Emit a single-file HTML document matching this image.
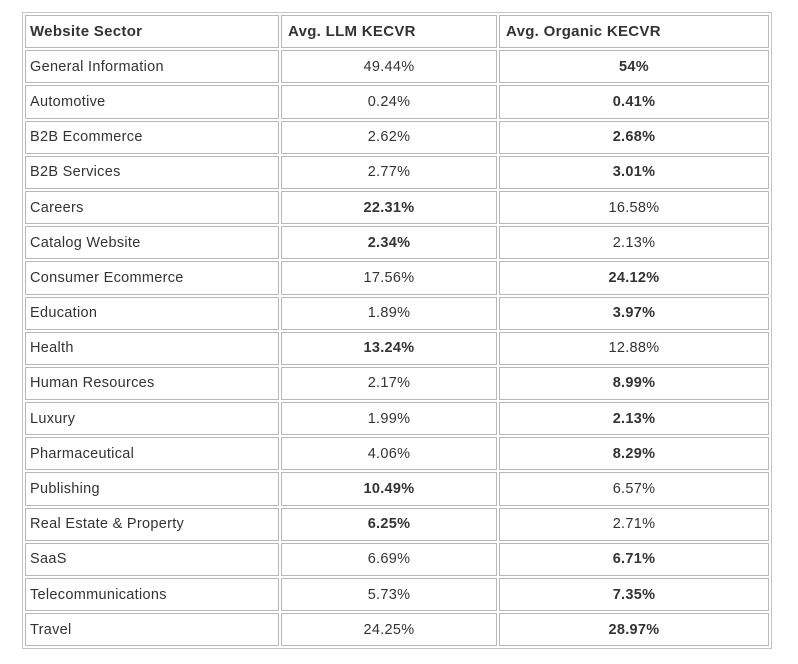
<!DOCTYPE html>
<html><head><meta charset="utf-8"><style>
html,body{margin:0;padding:0;background:#fff;width:798px;height:664px;overflow:hidden}
table{position:absolute;left:22px;top:12px;width:750px;border:1px solid #c4c4c4;border-collapse:separate;border-spacing:2px;font-family:"Liberation Sans",sans-serif;font-size:14.5px;color:#333;letter-spacing:0.3px}
td,th{border:1px solid #b8b8b8;height:33.2px;padding:0 0 0 4px;box-sizing:border-box}
th{font-weight:bold;text-align:left;font-size:15px}
th.c{padding-left:6px}
td.n{text-align:center;padding:0}
b{font-weight:bold}
col.a{width:254px}col.b{width:216px}
</style></head><body>
<table>
<col class="a"><col class="b"><col>
<tr><th>Website Sector</th><th class="c">Avg. LLM KECVR</th><th class="c">Avg. Organic KECVR</th></tr>
<tr><td>General Information</td><td class="n">49.44%</td><td class="n"><b>54%</b></td></tr>
<tr><td>Automotive</td><td class="n">0.24%</td><td class="n"><b>0.41%</b></td></tr>
<tr><td>B2B Ecommerce</td><td class="n">2.62%</td><td class="n"><b>2.68%</b></td></tr>
<tr><td>B2B Services</td><td class="n">2.77%</td><td class="n"><b>3.01%</b></td></tr>
<tr><td>Careers</td><td class="n"><b>22.31%</b></td><td class="n">16.58%</td></tr>
<tr><td>Catalog Website</td><td class="n"><b>2.34%</b></td><td class="n">2.13%</td></tr>
<tr><td>Consumer Ecommerce</td><td class="n">17.56%</td><td class="n"><b>24.12%</b></td></tr>
<tr><td>Education</td><td class="n">1.89%</td><td class="n"><b>3.97%</b></td></tr>
<tr><td>Health</td><td class="n"><b>13.24%</b></td><td class="n">12.88%</td></tr>
<tr><td>Human Resources</td><td class="n">2.17%</td><td class="n"><b>8.99%</b></td></tr>
<tr><td>Luxury</td><td class="n">1.99%</td><td class="n"><b>2.13%</b></td></tr>
<tr><td>Pharmaceutical</td><td class="n">4.06%</td><td class="n"><b>8.29%</b></td></tr>
<tr><td>Publishing</td><td class="n"><b>10.49%</b></td><td class="n">6.57%</td></tr>
<tr><td>Real Estate &amp; Property</td><td class="n"><b>6.25%</b></td><td class="n">2.71%</td></tr>
<tr><td>SaaS</td><td class="n">6.69%</td><td class="n"><b>6.71%</b></td></tr>
<tr><td>Telecommunications</td><td class="n">5.73%</td><td class="n"><b>7.35%</b></td></tr>
<tr><td>Travel</td><td class="n">24.25%</td><td class="n"><b>28.97%</b></td></tr>
</table>
</body></html>
